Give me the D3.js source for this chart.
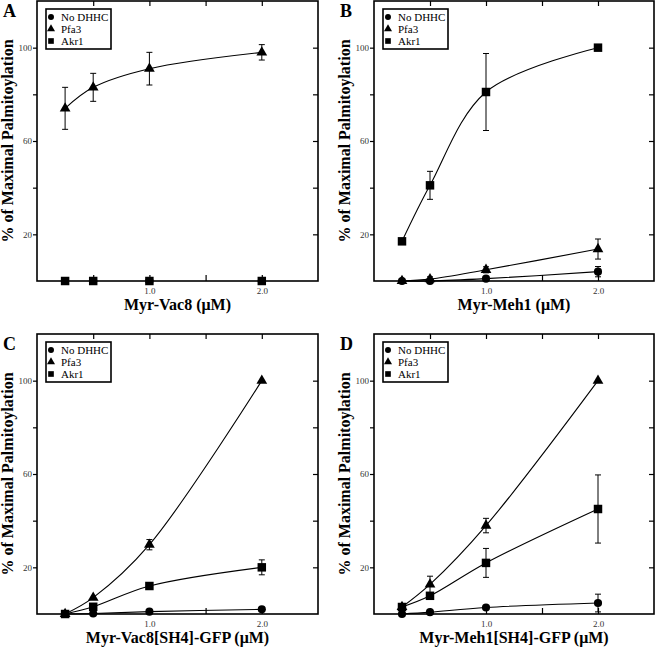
<!DOCTYPE html>
<html><head><meta charset="utf-8">
<script src="https://cdn.jsdelivr.net/npm/d3@7"></script>
<style>
html,body{margin:0;padding:0;background:#fff;}
svg{display:block;}
text{font-family:"Liberation Serif","Times New Roman",serif;}
</style></head>
<body>
<svg id="chart" width="656" height="650"></svg>
<script>
// ---- data ----
const concentrations = [0.25, 0.5, 1.0, 2.0];
const seriesNames = ["No DHHC", "Pfa3", "Akr1"];
const yTickValues = [20, 40, 60, 80, 100];
const yTickLabels = [20, 60, 100];
const xTickValues = [0.5, 1.0, 1.5, 2.0];
const xTickLabels = [1.0, 2.0];

const A_noDHHC = [0, 0, 0, 0];      const A_noDHHC_err = [0, 0, 0, 0];
const A_pfa3   = [74, 83, 91, 98];  const A_pfa3_err   = [9, 6, 7, 3.3];
const A_akr1   = [0, 0, 0, 0];      const A_akr1_err   = [0, 0, 0, 0];

const B_noDHHC = [0, 0, 1, 4];        const B_noDHHC_err = [0, 0, 0, 2.2];
const B_pfa3   = [0, 0.8, 4.8, 13.7]; const B_pfa3_err   = [0, 1, 1.3, 4.3];
const B_akr1   = [17, 41, 81, 100];   const B_akr1_err   = [0, 6, 16.5, 0];

const C_noDHHC = [0, 0.2, 1, 2];      const C_noDHHC_err = [0, 0, 0, 0];
const C_pfa3   = [0, 7, 29.7, 100];   const C_pfa3_err   = [0, 0, 2.2, 0];
const C_akr1   = [0, 3.1, 12, 20];    const C_akr1_err   = [0, 0, 0, 3.2];

const D_noDHHC = [0, 0.8, 2.8, 4.7];  const D_noDHHC_err = [0, 0, 0, 3.8];
const D_pfa3   = [3, 12.7, 37.9, 100];const D_pfa3_err   = [0, 3.5, 3.1, 0];
const D_akr1   = [3, 7.8, 21.9, 45];  const D_akr1_err   = [0, 0, 6.2, 14.6];

const panelLabels = ["A", "B", "C", "D"];
const xTitles = ["Myr-Vac8 (\u03BCM)", "Myr-Meh1 (\u03BCM)", "Myr-Vac8[SH4]-GFP (\u03BCM)", "Myr-Meh1[SH4]-GFP (\u03BCM)"];
const yTitle = "% of Maximal Palmitoylation";
const showLine = [[false, true, false], [true, true, true], [true, true, true], [true, true, true]];

// ---- layout ----
const layouts = [
  {x0: 37, x1: 318, y0: 1, y1: 281},
  {x0: 374, x1: 654, y0: 1, y1: 281},
  {x0: 37, x1: 318, y0: 334, y1: 614},
  {x0: 374, x1: 654, y0: 334, y1: 614}
];
const panelData = [
  [[A_noDHHC, A_noDHHC_err], [A_pfa3, A_pfa3_err], [A_akr1, A_akr1_err]],
  [[B_noDHHC, B_noDHHC_err], [B_pfa3, B_pfa3_err], [B_akr1, B_akr1_err]],
  [[C_noDHHC, C_noDHHC_err], [C_pfa3, C_pfa3_err], [C_akr1, C_akr1_err]],
  [[D_noDHHC, D_noDHHC_err], [D_pfa3, D_pfa3_err], [D_akr1, D_akr1_err]]
];
const symbolTypes = [d3.symbolCircle, d3.symbolTriangle, d3.symbolSquare];
const symbolSizes = [52, 50, 72];
const legendSizes = [28, 28, 32];
const drawOrder = [1, 0, 2];

const svg = d3.select("#chart");

layouts.forEach((L, pi) => {
  const g = svg.append("g");
  const x = d3.scaleLinear().domain([0, 2.5]).range([L.x0, L.x1]);
  const y = d3.scaleLinear().domain([0, 120]).range([L.y1, L.y0]);

  // axes
  g.append("g").attr("transform", `translate(${L.x0},0)`)
    .call(d3.axisLeft(y).tickValues(yTickValues).tickSizeInner(4).tickSizeOuter(0).tickPadding(1)
      .tickFormat(d => yTickLabels.includes(d) ? d : ""))
    .call(s => s.select(".domain").remove())
    .call(s => s.selectAll("text").attr("font-size", 9).attr("fill", "#333").style("font-family", '"Liberation Serif",serif'))
    .call(s => s.selectAll("line").attr("stroke-width", 1.2));
  g.append("g").attr("transform", `translate(${L.x1},0)`)
    .call(d3.axisRight(y).tickValues(yTickValues).tickSizeInner(-5).tickSizeOuter(0).tickFormat(""))
    .call(s => s.select(".domain").remove())
    .call(s => s.selectAll("line").attr("stroke-width", 1.2));
  g.append("g").attr("transform", `translate(0,${L.y1})`)
    .call(d3.axisBottom(x).tickValues(xTickValues).tickSizeInner(-6).tickSizeOuter(0).tickPadding(7)
      .tickFormat(d => xTickLabels.includes(d) ? d3.format(".1f")(d) : ""))
    .call(s => s.select(".domain").remove())
    .call(s => s.selectAll("text").attr("font-size", 9).attr("fill", "#333").style("font-family", '"Liberation Serif",serif'))
    .call(s => s.selectAll("line").attr("stroke-width", 1.2));
  g.append("g").attr("transform", `translate(0,${L.y0})`)
    .call(d3.axisTop(x).tickValues(xTickValues).tickSizeInner(-5).tickSizeOuter(0).tickFormat(""))
    .call(s => s.select(".domain").remove())
    .call(s => s.selectAll("line").attr("stroke-width", 1.2));

  // frame
  g.append("rect").attr("x", L.x0).attr("y", L.y0)
    .attr("width", L.x1 - L.x0).attr("height", L.y1 - L.y0)
    .attr("fill", "none").attr("stroke", "#000").attr("stroke-width", 1.6);

  // lines
  const line = d3.line().x(d => x(d.x)).y(d => y(d.y)).curve(d3.curveCatmullRom.alpha(0.5));
  drawOrder.forEach(si => {
    if (!showLine[pi][si]) return;
    const vals = panelData[pi][si][0];
    const pts = concentrations.map((c, i) => ({x: c, y: vals[i]}));
    g.append("path").attr("d", line(pts)).attr("fill", "none").attr("stroke", "#000").attr("stroke-width", 1.1);
  });

  // error bars
  drawOrder.forEach(si => {
    const [vals, errs] = panelData[pi][si];
    concentrations.forEach((c, i) => {
      const e = errs[i];
      if (!e) return;
      const cx = x(c), yt = y(vals[i] + e), yb = y(vals[i] - e);
      g.append("line").attr("x1", cx).attr("x2", cx).attr("y1", yt).attr("y2", yb).attr("stroke", "#000").attr("stroke-width", 1);
      [yt, yb].forEach(yy => g.append("line").attr("x1", cx - 3).attr("x2", cx + 3).attr("y1", yy).attr("y2", yy).attr("stroke", "#000").attr("stroke-width", 1));
    });
  });

  // markers
  drawOrder.forEach(si => {
    const vals = panelData[pi][si][0];
    g.selectAll(null).data(concentrations).enter().append("path")
      .attr("d", d3.symbol().type(symbolTypes[si]).size(symbolSizes[si]))
      .attr("transform", (c, i) => `translate(${x(c)},${y(vals[i])})`)
      .attr("fill", "#000");
  });

  // legend
  const lg = g.append("g").attr("transform", `translate(${L.x0 + 9},${L.y0 + 8})`);
  lg.append("rect").attr("width", 65).attr("height", 40).attr("fill", "#fff").attr("stroke", "#000").attr("stroke-width", 1.6);
  seriesNames.forEach((name, si) => {
    const yy = 8 + si * 12;
    lg.append("path").attr("d", d3.symbol().type(symbolTypes[si]).size(legendSizes[si]))
      .attr("transform", `translate(5,${yy})`).attr("fill", "#000");
    lg.append("text").attr("x", 15).attr("y", yy + 4).attr("font-size", 11).text(name);
  });

  // panel label
  g.append("text").attr("x", L.x0 - 34).attr("y", L.y0 + 16)
    .attr("font-size", 18).attr("font-weight", "bold").text(panelLabels[pi]);

  // axis titles
  g.append("text").attr("x", (L.x0 + L.x1) / 2).attr("y", L.y1 + 29)
    .attr("text-anchor", "middle").attr("font-size", 16).attr("font-weight", "bold").text(xTitles[pi]);
  g.append("text").attr("transform", `translate(${L.x0 - 24},${(L.y0 + L.y1) / 2}) rotate(-90)`)
    .attr("text-anchor", "middle").attr("font-size", 16).attr("font-weight", "bold").text(yTitle);
});
</script>
</body></html>
